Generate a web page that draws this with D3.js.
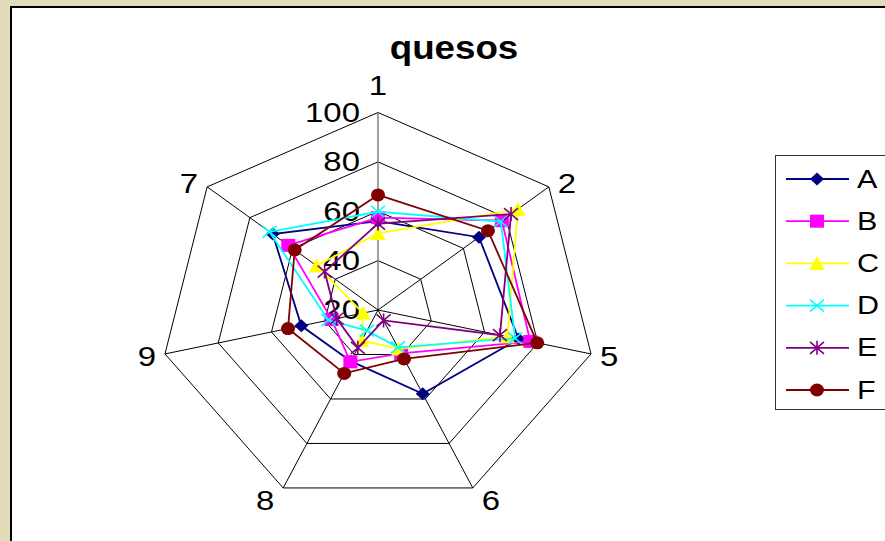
<!DOCTYPE html>
<html>
<head>
    <meta charset="UTF-8">
    <title>quesos</title>
    <style>
        html, body { margin: 0; padding: 0; background: #e4dbb9; }
        svg { display: block; }
    </style>
</head>
<body>
    <div id="chart"></div>
    <script src="https://cdn.jsdelivr.net/npm/d3@7"></script>
    <script type="text/javascript">
        // categories (clockwise from the top) and series values
        const axes = ["1", "2", "5", "6", "8", "9", "7"];
        const seriesNames = ["A", "B", "C", "D", "E", "F"];
        const valsA = [56, 67.3, 72.8, 57.7, 43, 48.8, 69.3];
        const valsB = [57.4, 78, 77.2, 39.5, 43.3, 37.4, 62];
        const valsC = [51, 85.5, 68.6, 37.5, 33.7, 25.6, 48.8];
        const valsD = [59.8, 77.5, 71.5, 36.8, 29.3, 38.6, 70.8];
        const valsE = [55, 82.3, 65.8, 24.7, 37, 35.5, 45];
        const valsF = [66.6, 71.5, 79.8, 42, 48.5, 53.8, 59];
        const tickValues = [20, 40, 60, 80, 100];
        const colors = ["#000080", "#ff00ff", "#ffff00", "#00ffff", "#800080", "#800000"];
        const shapes = ["diamond", "square", "triangle", "x", "star", "circle"];

        const allVals = [valsA, valsB, valsC, valsD, valsE, valsF];

        const width = 885, height = 541;
        const cx = 378, cy = 310;
        const font = "'Liberation Sans', Arial, sans-serif";
        const stretch = 1.22; // text in the picture is drawn wider than normal

        const svg = d3.select("#chart").append("svg")
            .attr("width", width)
            .attr("height", height)
            .attr("font-family", font);

        // page background + white chart area
        svg.append("rect").attr("width", width).attr("height", height).attr("fill", "#e4dbb9");
        svg.append("rect")
            .attr("x", 11).attr("y", 7)
            .attr("width", width + 20).attr("height", height + 20)
            .attr("fill", "#fff").attr("stroke", "#000").attr("stroke-width", 2);

        // radial scales (the plot is a bit wider than tall)
        const rX = d3.scaleLinear().domain([20, 100]).range([0, 218.5]);
        const rY = d3.scaleLinear().domain([20, 100]).range([0, 197.5]);
        const angle = d3.scaleLinear().domain([0, axes.length]).range([0, 2 * Math.PI]);

        function pt(i, v) {
            const a = angle(i);
            return [cx + rX(v) * Math.sin(a), cy - rY(v) * Math.cos(a)];
        }

        function label(g, x, y, txt, size, anchor) {
            return g.append("text")
                .attr("transform", `translate(${x},${y}) scale(${stretch},1)`)
                .attr("text-anchor", anchor)
                .attr("dominant-baseline", "central")
                .attr("font-size", size)
                .text(txt);
        }

        const line = d3.line().curve(d3.curveLinearClosed);

        // grid rings
        const grid = svg.append("g");
        tickValues.filter(t => t > 20).forEach(t => {
            grid.append("path")
                .attr("d", line(axes.map((d, i) => pt(i, t))))
                .attr("fill", "none")
                .attr("stroke", "#000")
                .attr("stroke-width", 1);
        });
        // spokes
        axes.forEach((d, i) => {
            const p = pt(i, 100);
            grid.append("line")
                .attr("x1", cx).attr("y1", cy)
                .attr("x2", p[0]).attr("y2", p[1])
                .attr("stroke", i == 0 ? "#808080" : "#000")
                .attr("stroke-width", i == 0 ? 1.5 : 1);
        });

        // category labels
        axes.forEach((d, i) => {
            const a = angle(i);
            const p = pt(i, 100);
            const s = Math.sin(a), c = Math.cos(a);
            let dx = 0, anchor = "middle";
            if (s > 0.1) { dx = 9; anchor = "start"; }
            if (s < -0.1) { dx = -9; anchor = "end"; }
            let dy;
            if (c > 0.9) dy = -27;
            else if (c > 0) dy = -3;
            else if (c > -0.5) dy = 3;
            else dy = 13;
            label(svg, p[0] + dx, p[1] + dy, d, 27, anchor);
        });

        // value labels along the first axis
        tickValues.forEach(t => {
            label(svg, cx - 18, pt(0, t)[1], t, 27, "end");
        });

        function drawMarker(g, shape, color) {
            if (shape == "diamond") {
                g.append("path").attr("d", "M0,-6.5L7,0L0,6.5L-7,0Z").attr("fill", color);
            } else if (shape == "square") {
                g.append("rect").attr("x", -7).attr("y", -6.5).attr("width", 14).attr("height", 13).attr("fill", color);
            } else if (shape == "triangle") {
                g.append("path").attr("d", "M0,-7.5L7.5,6.5L-7.5,6.5Z").attr("fill", color);
            } else if (shape == "circle") {
                g.append("ellipse").attr("rx", 7).attr("ry", 6.5).attr("fill", color);
            } else {
                let d = "M-7,-6L7,6M-7,6L7,-6";
                if (shape == "star") d += "M0,-7L0,7";
                g.append("path").attr("d", d).attr("fill", "none")
                    .attr("stroke", color).attr("stroke-width", 1.6);
            }
        }

        // series
        allVals.forEach((vals, k) => {
            const g = svg.append("g");
            const pts = vals.map((v, i) => pt(i, v));
            g.append("path")
                .attr("d", line(pts))
                .attr("fill", "none")
                .attr("stroke", colors[k])
                .attr("stroke-width", 1.8);
            pts.forEach(p => {
                drawMarker(g.append("g").attr("transform", `translate(${p[0]},${p[1]})`), shapes[k], colors[k]);
            });
        });

        // title
        svg.append("text")
            .attr("transform", "translate(454,59) scale(1.08,1)")
            .attr("text-anchor", "middle")
            .attr("font-size", 34)
            .attr("font-weight", "bold")
            .text("quesos");

        // legend
        const legend = svg.append("g");
        legend.append("rect")
            .attr("x", 775.5).attr("y", 155.5)
            .attr("width", 140).attr("height", 254)
            .attr("fill", "#fff").attr("stroke", "#333").attr("stroke-width", 1);
        seriesNames.forEach((name, k) => {
            const y = 179 + k * 42.2;
            legend.append("line")
                .attr("x1", 786).attr("x2", 849)
                .attr("y1", y).attr("y2", y)
                .attr("stroke", colors[k]).attr("stroke-width", 1.8);
            drawMarker(legend.append("g").attr("transform", `translate(817,${y})`), shapes[k], colors[k]);
            label(legend, 857, y, name, 25, "start");
        });
    </script>
</body>
</html>
